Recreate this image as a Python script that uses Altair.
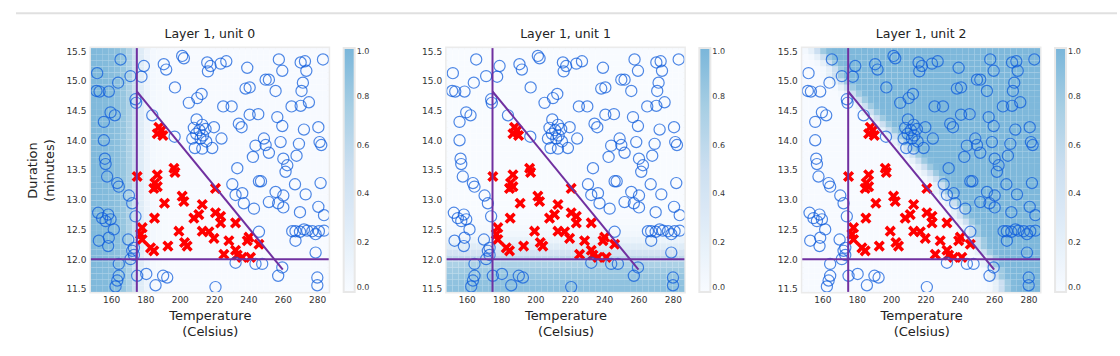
import numpy as np
import pandas as pd
import altair as alt

# ---- scatter data ----
bad_t = [165.5,151.9,164.1,171.3,151.5,153.3,158.7,174.2,174.6,155.8,159.7,162.2,155.8,156.4,156.8,157.7,163.6,164.5,170.4,172.3,
         174.2,152.5,154.8,158.3,159.7,156.8,161.6,158.7,152.9,158.3,170.0,173.3,172.3,173.3,171.3,164.5,164.5,163.6,162.6,175.2,
         179.1,177.7,184.0,190.7,192.1,201.4,202.4,197.2,205.3,210.2,212.7,216.0,217.9,216.4,223.8,227.1,239.3,238.3,240.7,225.3,
         230.2,234.4,236.0,240.7,245.7,209.8,208.2,211.5,213.1,215.0,213.5,209.6,207.3,212.1,215.4,218.9,213.1,208.8,219.9,224.3,
         197.0,257.7,259.7,250.0,251.9,255.8,256.8,259.7,265.1,270.4,275.2,270.4,272.9,273.7,271.7,270.9,283.4,280.7,272.3,258.7,
         249.0,250.0,244.1,242.6,251.9,260.3,262.6,261.6,268.0,269.4,281.4,282.4,233.5,230.6,232.5,236.4,237.3,246.1,247.3,255.8,
         260.3,267.1,282.0,251.9,257.3,260.3,243.2,273.3,280.7,284.0,270.0,265.5,267.4,270.0,272.3,274.2,277.2,279.1,281.0,284.0,
         267.4,279.1,280.1,280.1,246.1,232.5,244.1,248.0,257.3,259.7,180.5,185.9,190.3,192.7,220.8]
bad_d = [15.36,15.13,14.97,15.08,14.83,14.82,14.82,14.69,14.63,14.31,14.47,14.42,14.00,13.69,13.60,13.39,13.28,13.22,13.07,12.94,
         12.72,12.78,12.69,12.75,12.67,12.64,12.50,12.36,12.31,12.22,12.33,12.19,12.14,12.07,12.00,11.92,11.72,11.64,11.54,11.72,
         15.25,15.07,14.42,15.28,15.19,15.42,15.38,14.89,14.63,14.71,14.78,15.31,15.25,15.16,15.29,15.33,15.22,14.87,14.89,14.57,
         14.57,14.28,14.22,14.43,14.44,14.35,14.21,14.17,14.26,14.19,14.08,14.11,14.03,14.03,13.98,13.87,13.86,13.87,14.22,14.03,
         14.06,15.36,15.17,15.02,15.02,14.83,14.39,14.24,14.57,14.58,14.64,15.31,15.33,15.17,14.97,14.83,15.36,14.22,14.18,13.97,
         14.03,13.92,13.91,13.72,13.79,13.69,13.58,13.47,13.74,13.94,13.97,13.92,13.53,13.26,13.08,13.11,12.94,13.31,13.31,13.13,
         13.07,13.26,13.28,12.96,12.94,12.87,12.85,13.09,12.88,12.74,12.79,12.47,12.47,12.46,12.50,12.48,12.47,12.42,12.47,12.48,
         12.31,12.11,11.69,11.56,12.46,11.94,11.92,11.92,11.72,11.86,11.75,11.56,11.72,11.69,11.53]
good_t = [187.8,186.9,189.4,190.2,175.2,186.9,185.5,186.9,184.9,196.6,197.2,201.4,202.4,191.1,185.3,220.8,178.1,177.2,178.1,183.0,
          184.9,193.1,199.5,202.8,204.3,213.1,211.1,208.2,213.1,217.0,219.9,220.8,223.8,223.8,232.5,228.6,225.7,232.5,233.5,240.3,
          241.2,246.1,236.4,239.3]
good_d = [14.22,14.11,14.17,14.08,13.39,13.42,13.28,13.22,13.19,13.53,13.46,13.06,12.97,12.94,12.69,13.19,12.53,12.42,12.33,12.19,
          12.14,12.22,12.47,12.28,12.22,12.92,12.75,12.69,12.47,12.46,12.35,12.78,12.72,12.61,12.61,12.31,12.08,12.15,12.07,12.37,
          12.03,12.25,12.03,12.31]

# decision lines
line_t = [175.0, 260.0]
line_d = [14.824, 11.824]
vline_t = [175.0]
hline_d = [12.0]

titles = ["Layer 1, unit 0", "Layer 1, unit 1", "Layer 1, unit 2"]
x_ticks = [160, 180, 200, 220, 240, 260, 280]
y_ticks = [11.5, 12.0, 12.5, 13.0, 13.5, 14.0, 14.5, 15.0, 15.5]
cbar_ticks = [0, 0.2, 0.4, 0.6, 0.8, 1.0]

# ---- heat-map shading ----
grid_t = np.linspace(150, 285, 40)
grid_d = np.linspace(11.5, 15.5, 40)
unit0_by_col = [0.97, 0.96, 0.95, 0.93, 0.90, 0.84, 0.72, 0.50, 0.27, 0.12, 0.05, 0.03, 0.02] + [0.01] * 27
unit1_by_row = [0.90, 0.88, 0.85, 0.80, 0.72, 0.60, 0.42, 0.27, 0.15, 0.08, 0.04, 0.02, 0.01] + [0.0] * 27
unit2_edge_by_row = [265, 263, 261, 260, 258, 256, 253.5, 251.5, 249.5, 247.5, 246, 244, 241.5, 239, 236, 233.5, 231, 228,
                     225, 223, 220, 217, 213, 209.5, 206, 202, 198, 194.5, 190.5, 187, 183, 180, 176.5, 174, 171, 168.5,
                     166, 163, 160.5, 158]
unit2_ramp = [0.01, 0.05, 0.2, 0.5, 0.8, 0.95, 0.98]

colors = ["#f8fbff", "#e1edf8", "#ccdff1", "#a8cfe4", "#7ab6da"]

step_t = grid_t[1] - grid_t[0]
step_d = grid_d[1] - grid_d[0]


def heat_frame(unit):
    rows = []
    for i, d in enumerate(grid_d):
        for j, t in enumerate(grid_t):
            if unit == 0:
                v = unit0_by_col[j]
            elif unit == 1:
                v = unit1_by_row[i]
            else:
                k = int(round((t - unit2_edge_by_row[i]) / step_t))
                k = max(-3, min(3, k))
                v = unit2_ramp[k + 3]
            rows.append({"x0": t - step_t / 2, "x1": t + step_t / 2,
                         "y0": d - step_d / 2, "y1": d + step_d / 2, "v": v})
    return pd.DataFrame(rows)


bad_df = pd.DataFrame({"t": bad_t, "d": bad_d})
good_df = pd.DataFrame({"t": good_t, "d": good_d})
line_df = pd.DataFrame({"t": line_t, "d": line_d})

xdom = [150 - step_t / 2, 285 + step_t / 2]
ydom = [11.5 - step_d / 2, 15.5 + step_d / 2]

XPATH = "M -1 -0.55 L -0.55 -1 L 0 -0.45 L 0.55 -1 L 1 -0.55 L 0.45 0 L 1 0.55 L 0.55 1 L 0 0.45 L -0.55 1 L -1 0.55 L -0.45 0 Z"
PURPLE = "#7030A0"
W, H = 238, 244


def panel(unit):
    xscale = alt.Scale(domain=xdom, nice=False, zero=False)
    yscale = alt.Scale(domain=ydom, nice=False, zero=False)
    xaxis = alt.Axis(values=x_ticks, title=["Temperature", "(Celsius)"],
                     grid=False, ticks=False, domain=False, labelFontSize=9, labelColor="#333",
                     labelOverlap=False, labelFlush=False,
                     labelPadding=4, titleFontSize=13, titleFontWeight="normal", titleColor="#222",
                     titlePadding=5, titleLineHeight=16)
    yaxis = alt.Axis(values=y_ticks, format=".1f",
                     title=["Duration", "(minutes)"] if unit == 0 else None,
                     grid=False, ticks=False, domain=False, labelFontSize=9, labelColor="#333",
                     labelOverlap=False, labelFlush=False,
                     labelPadding=5, titleFontSize=13, titleFontWeight="normal", titleColor="#222",
                     titlePadding=9, titleLineHeight=17)

    def xy(tf="t:Q", df="d:Q"):
        return dict(x=alt.X(tf, scale=xscale, axis=xaxis), y=alt.Y(df, scale=yscale, axis=yaxis))

    heat = alt.Chart(heat_frame(unit)).mark_rect().encode(
        x=alt.X("x0:Q", scale=xscale, axis=xaxis),
        x2="x1:Q",
        y=alt.Y("y0:Q", scale=yscale, axis=yaxis),
        y2="y1:Q",
        color=alt.Color("v:Q",
                        scale=alt.Scale(domain=[0, 0.25, 0.5, 0.75, 1], range=colors, interpolate="rgb"),
                        legend=alt.Legend(title=None, orient="right", direction="vertical",
                                          gradientLength=H, gradientThickness=11,
                                          values=cbar_ticks, format=".1f",
                                          labelFontSize=8, labelColor="#333", offset=15,
                                          labelBaseline="middle", labelOverlap=False,
                                          gradientStrokeColor="#e8e8e8", gradientStrokeWidth=2)),
    )
    good = alt.Chart(good_df).mark_point(shape=XPATH, filled=True, color="#ff0000", size=125,
                                         opacity=1, clip=True).encode(**xy())
    bad = alt.Chart(bad_df).mark_point(shape="circle", filled=False, stroke="#0D5BDC", size=125,
                                       strokeWidth=1.2, opacity=0.72, clip=True).encode(**xy())
    diag = alt.Chart(line_df).mark_line(color=PURPLE, strokeWidth=2).encode(**xy())
    vrule = alt.Chart(pd.DataFrame({"t": vline_t})).mark_rule(color=PURPLE, strokeWidth=2).encode(
        x=alt.X("t:Q", scale=xscale, axis=xaxis))
    hrule = alt.Chart(pd.DataFrame({"d": hline_d})).mark_rule(color=PURPLE, strokeWidth=2).encode(
        y=alt.Y("d:Q", scale=yscale, axis=yaxis))
    title = alt.Chart(pd.DataFrame({"k": [0]})).mark_text(
        fontSize=12.5, color="#222", baseline="middle", align="center").encode(
        x=alt.value(W / 2), y=alt.value(-14), text=alt.value(titles[unit]))
    layers = [heat, good, bad, diag, vrule, hrule, title]
    if unit == 0:
        # light frame line at the top of the notebook output area
        top_line = alt.Chart(pd.DataFrame({"k": [0]})).mark_rule(
            color="#e0e0e0", strokeWidth=2, clip=False).encode(
            x=alt.value(-75), x2=alt.value(1027), y=alt.value(-35))
        layers.append(top_line)
    return alt.layer(*layers).properties(width=W, height=H)


chart = alt.hconcat(panel(0), panel(1), panel(2), spacing=118, bounds="flush").resolve_scale(
    color="independent").properties(
    padding={"left": 13, "top": 10, "right": 0, "bottom": 5}
).configure(font="DejaVu Sans").configure_view(stroke="#ebebeb", strokeWidth=3)

chart.save("out.html", embed_options={"renderer": "svg", "actions": False})
